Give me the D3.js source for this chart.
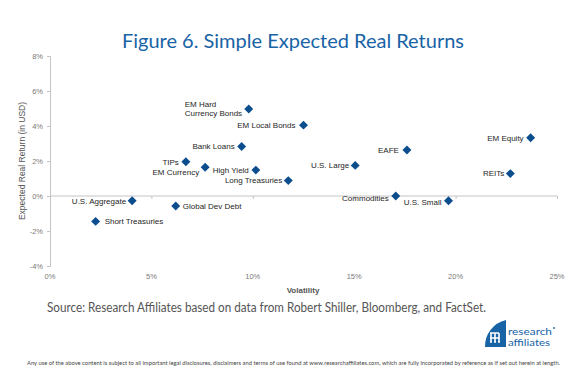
<!DOCTYPE html>
<html>
<head>
<meta charset="utf-8">
<script src="https://cdn.jsdelivr.net/npm/d3@7"></script>
<style>
	body{margin:0;background:#fff}
	svg{display:block}
</style>
</head>
<body>
<svg id="chart" width="580" height="374"></svg>
<script>
// asset classes
const assets = ["EM Hard Currency Bonds","EM Local Bonds","Bank Loans","TIPs","EM Currency","High Yield",
	"Long Treasuries","U.S. Large","EAFE","EM Equity","REITs","Commodities","U.S. Small",
	"U.S. Aggregate","Short Treasuries","Global Dev Debt"]
const volatility = [9.8,12.5,9.45,6.7,7.65,10.15,11.75,15.05,17.6,23.7,22.7,17.05,19.65,4.05,2.25,6.2]
const realReturn = [4.97,4.05,2.83,1.96,1.64,1.48,0.88,1.75,2.63,3.33,1.28,0.0,-0.27,-0.27,-1.45,-0.57]
const xTicks = [0,5,10,15,20,25]
const yTicks = [-4,-2,0,2,4,6,8]

// label placement next to each marker
const labelPos = {
	"EM Hard Currency Bonds": {anchor:"start", dx:-64, dy:-5, lines:["EM Hard","Currency Bonds"]},
	"EM Local Bonds": {anchor:"end", dx:-8, dy:0},
	"Bank Loans": {anchor:"end", dx:-7, dy:0},
	"TIPs": {anchor:"end", dx:-7, dy:0},
	"EM Currency": {anchor:"end", dx:-6, dy:5},
	"High Yield": {anchor:"end", dx:-7, dy:0},
	"Long Treasuries": {anchor:"end", dx:-6, dy:0},
	"U.S. Large": {anchor:"end", dx:-6, dy:0},
	"EAFE": {anchor:"end", dx:-8, dy:0},
	"EM Equity": {anchor:"end", dx:-7, dy:0},
	"REITs": {anchor:"end", dx:-6, dy:0},
	"Commodities": {anchor:"end", dx:-7, dy:2},
	"U.S. Small": {anchor:"end", dx:-7, dy:1},
	"U.S. Aggregate": {anchor:"end", dx:-6, dy:0},
	"Short Treasuries": {anchor:"start", dx:9, dy:0},
	"Global Dev Debt": {anchor:"start", dx:7, dy:0}
}

const svg = d3.select("#chart")
const x = d3.scaleLinear().domain([0,25]).range([50,557])
const y = d3.scaleLinear().domain([-4,8]).range([266,56])
const axisCol = "#c4c4c4", tickTxt = "#7a7a7a"
const sans = "'Liberation Sans', Arial, sans-serif"
const blue = "#1763a6"

svg.append("text")
	.attr("x", 293).attr("y", 48)
	.attr("text-anchor", "middle")
	.attr("font-family", "Lato, 'Open Sans', sans-serif")
	.attr("font-size", 20)
	.attr("fill", blue)
	.text("Figure 6. Simple Expected Real Returns")

// y axis
let yAxis = svg.append("g").attr("transform", "translate(50,0)")
	.call(d3.axisLeft(y).tickValues(yTicks).tickSize(3).tickPadding(4).tickFormat(d=>d+"%"))
yAxis.select(".domain").attr("stroke", axisCol)
yAxis.selectAll(".tick line").attr("stroke", axisCol)
yAxis.selectAll(".tick text").attr("fill", tickTxt).attr("font-family", sans).attr("font-size", 7.5)

// x axis sits on the 0% line, labels at the bottom
let xAxis = svg.append("g").attr("transform", "translate(0,"+y(0)+")")
	.call(d3.axisBottom(x).tickValues(xTicks).tickSize(3).tickFormat(""))
xAxis.select(".domain").attr("stroke", axisCol).attr("d", "M"+x(0)+",0H"+x(25))
xAxis.selectAll(".tick line").attr("stroke", axisCol)

svg.append("g").selectAll("text")
	.data(xTicks)
	.join("text")
	  .attr("x", d=>x(d))
	  .attr("y", 279)
	  .attr("text-anchor", "middle")
	  .attr("fill", tickTxt)
	  .attr("font-family", sans)
	  .attr("font-size", 7.5)
	  .text(d=>d+"%")

svg.append("text")
	.attr("x", 303).attr("y", 293)
	.attr("text-anchor", "middle")
	.attr("font-family", sans).attr("font-size", 8).attr("font-weight", "bold")
	.attr("fill", "#555")
	.text("Volatility")

svg.append("text")
	.attr("transform", "translate(25,161) rotate(-90)")
	.attr("text-anchor", "middle")
	.attr("font-family", sans).attr("font-size", 8.5)
	.attr("fill", "#555")
	.text("Expected Real Return (in USD)")

// points
const pts = assets.map((a,i)=>({name:a, vol:volatility[i], ret:realReturn[i]}))
svg.append("g").selectAll("path")
	.data(pts)
	.join("path")
	  .attr("d", d3.symbol(d3.symbolSquare, 40))
	  .attr("transform", d=>"translate("+x(d.vol)+","+y(d.ret)+") rotate(45)")
	  .attr("fill", "#0c4d8e")

let lab = svg.append("g").selectAll("text")
	.data(pts)
	.join("text")
	  .attr("y", d=>y(d.ret)+labelPos[d.name].dy)
	  .attr("text-anchor", d=>labelPos[d.name].anchor)
	  .attr("font-family", sans).attr("font-size", 8)
	  .attr("fill", "#262626")
lab.each(function(d){
	let lines = labelPos[d.name].lines || [d.name]
	let t = d3.select(this)
	lines.forEach((l,i)=>{
		t.append("tspan")
		 .attr("x", x(d.vol)+labelPos[d.name].dx)
		 .attr("dy", i===0?"0.35em":"1.15em")
		 .text(l)
	})
})

svg.append("text")
	.attr("x", 47).attr("y", 312)
	.attr("textLength", 439)
	.attr("lengthAdjust", "spacingAndGlyphs")
	.attr("font-family", "Lato, 'Open Sans', sans-serif")
	.attr("font-size", 12.5)
	.attr("fill", "#555")
	.text("Source: Research Affiliates based on data from Robert Shiller, Bloomberg, and FactSet.")

// logo
let logo = svg.append("g").attr("transform", "translate(485,320)")
logo.append("path")
	.attr("d", "M0,27 A27,27 0 0 1 21,0 L21,27 Z")
	.attr("fill", blue)
logo.append("path")
	.attr("d", "M5,13 h9 M5,18 h9 M6,13 v9 M10,13 v9 M14,13 v9 M5,22 h2 M9,22 h2 M13,22 h2")
	.attr("stroke", "#fff").attr("stroke-width", 1.6).attr("fill", "none")
logo.append("text").attr("x", 23).attr("y", 15)
	.attr("textLength", 44).attr("lengthAdjust", "spacingAndGlyphs")
	.attr("font-family", "Lato, sans-serif").attr("font-size", 10).attr("fill", blue)
	.text("research")
logo.append("circle").attr("cx", 69).attr("cy", 8).attr("r", 0.9).attr("fill", blue)
logo.append("text").attr("x", 23).attr("y", 25.5)
	.attr("textLength", 42).attr("lengthAdjust", "spacingAndGlyphs")
	.attr("font-family", "Lato, sans-serif").attr("font-size", 10).attr("fill", blue)
	.text("affiliates")

svg.append("text")
	.attr("x", 27).attr("y", 365)
	.attr("textLength", 533)
	.attr("lengthAdjust", "spacingAndGlyphs")
	.attr("font-family", "Lato, sans-serif")
	.attr("font-size", 5.5)
	.attr("fill", "#444")
	.text("Any use of the above content is subject to all important legal disclosures, disclaimers and terms of use found at www.researchaffiliates.com, which are fully incorporated by reference as if set out herein at length.")
</script>
</body>
</html>
